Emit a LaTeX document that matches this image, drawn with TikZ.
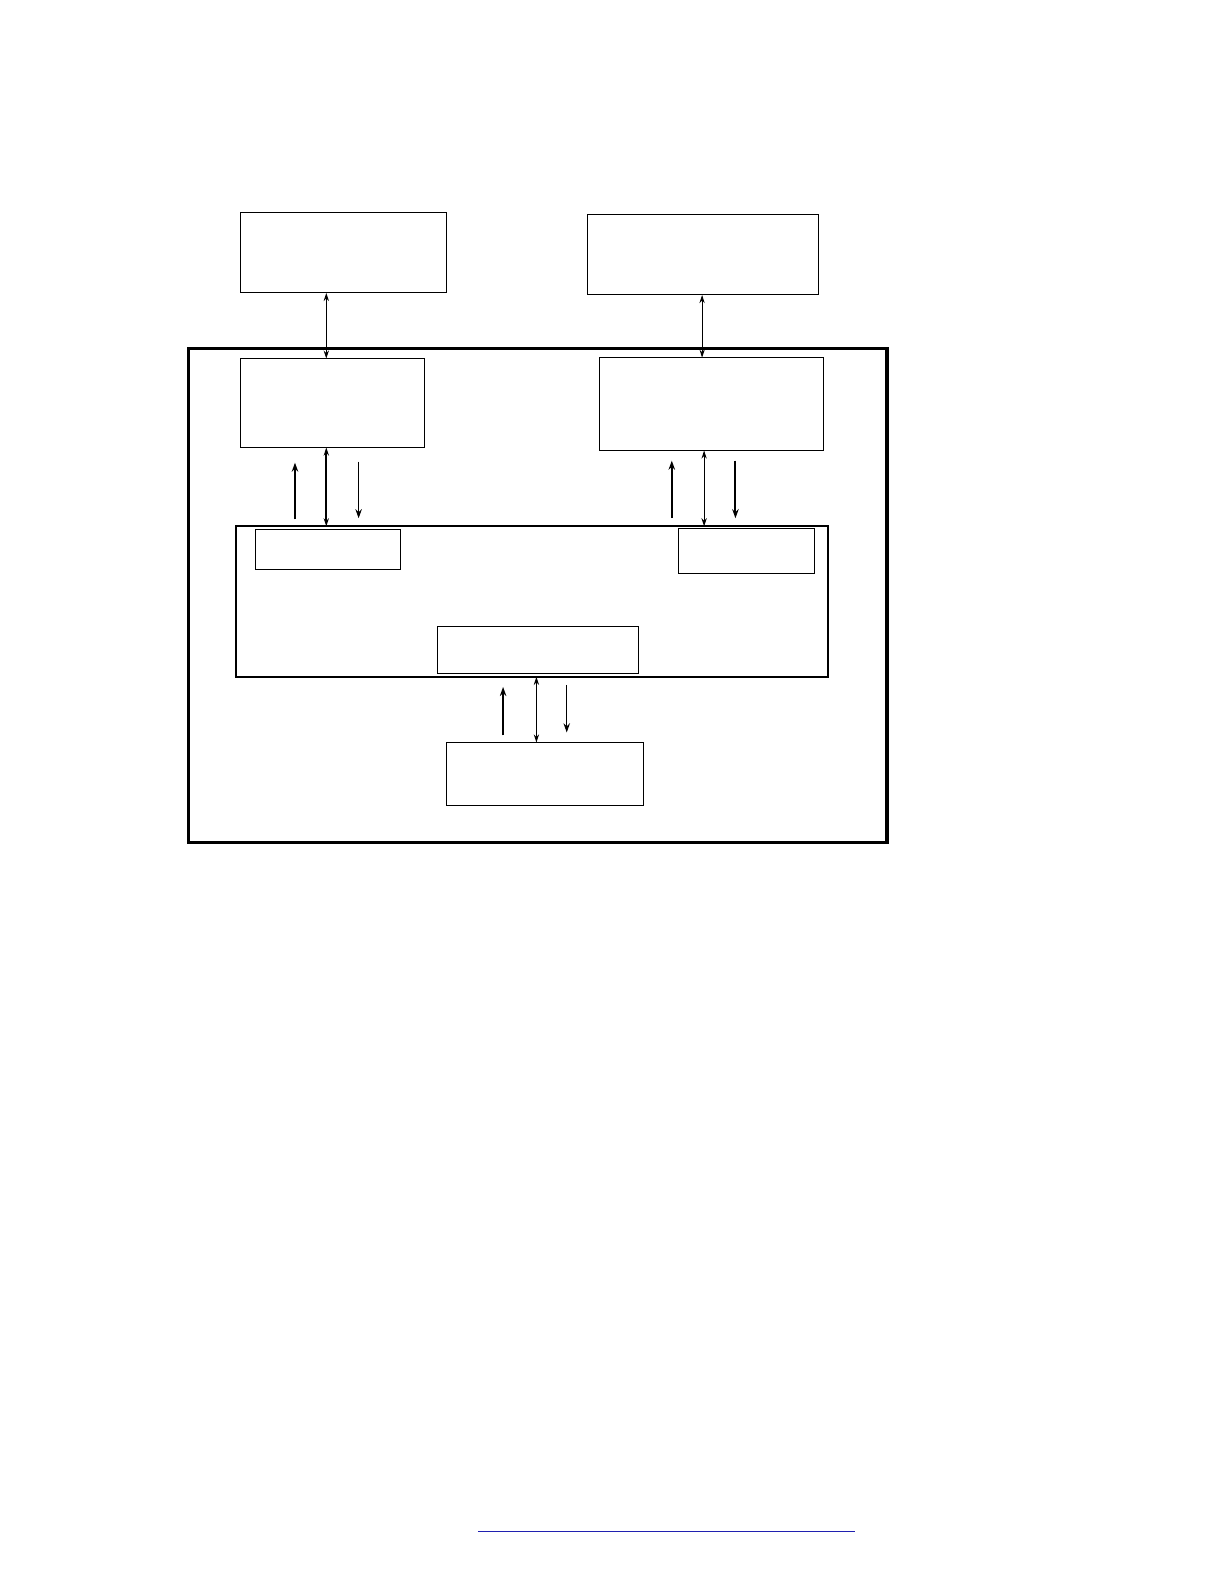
\documentclass[tikz,border=0pt]{standalone}
\usepackage{xcolor}
\usepackage{tikz}
\usetikzlibrary{arrows.meta}
\definecolor{linkblue}{HTML}{2020B0}

\begin{document}
\begin{tikzpicture}[x=0.5bp, y=-0.5bp,
    box/.style={draw, line width=0.5bp, inner sep=0pt, outer sep=0pt, anchor=north west},
    thinarr/.style={line width=0.5bp, {Stealth[length=4bp,width=2.6bp]}-{Stealth[length=4bp,width=2.6bp]}},
    thickarr/.style={line width=1bp},
    tip/.style={-{Stealth[length=4.5bp,width=3.2bp]}}]

    % Page frame
    \useasboundingbox (0,0) rectangle (1212,1568);

    % Blocks outside the main unit
    \node[box, minimum width=102bp, minimum height=40bp] (topL) at (238,210) {};
    \node[box, minimum width=114bp, minimum height=40bp] (topR) at (582,212) {};

    % Main unit and its bus
    \node[box, line width=1.5bp, minimum width=345.5bp, minimum height=244.5bp] (unit) at (187,345) {};
    \node[box, minimum width=91bp, minimum height=44bp] (midL) at (238,355) {};
    \node[box, minimum width=111bp, minimum height=46bp] (midR) at (593,354) {};
    \node[box, line width=1bp, minimum width=293bp, minimum height=74.5bp] (bus) at (234,521) {};
    \node[box, minimum width=71.5bp, minimum height=20bp] (portL) at (253,524) {};
    \node[box, minimum width=67bp, minimum height=22.5bp] (portR) at (672,523) {};
    \node[box, minimum width=99.5bp, minimum height=23.5bp] (portC) at (433,620) {};
    \node[box, minimum width=97.5bp, minimum height=31bp] (bottom) at (442,735) {};

    % Columns of the links
    \coordinate (cTopL) at (323,0);
    \coordinate (cTopR) at (695,0);
    \coordinate (cUpL) at (292,0);
    \coordinate (cBiL) at (323,0);
    \coordinate (cDnL) at (355,0);
    \coordinate (cUpR) at (665,0);
    \coordinate (cBiR) at (697,0);
    \coordinate (cDnR) at (728,0);
    \coordinate (cUpB) at (498,0);
    \coordinate (cBiB) at (531,0);
    \coordinate (cDnB) at (561,0);

    % Links from the outer blocks
    \draw[thinarr] (topL.south -| cTopL) -- (midL.north -| cTopL);
    \draw[thinarr] (topR.south -| cTopR) -- (midR.north -| cTopR);

    % Links between the left block and the bus
    \draw[thickarr, tip, shorten <=3.5bp, shorten >=7.5bp] (bus.north -| cUpL) -- (midL.south -| cUpL);
    \draw[thinarr, line width=1bp] (midL.south -| cBiL) -- (bus.north -| cBiL);
    \draw[line width=0.5bp, tip, shorten <=7bp, shorten >=4bp] (midL.south -| cDnL) -- (bus.north -| cDnL);

    % Links between the right block and the bus
    \draw[thickarr, tip, shorten <=4bp, shorten >=5bp] (bus.north -| cUpR) -- (midR.south -| cUpR);
    \draw[thinarr] (midR.south -| cBiR) -- (bus.north -| cBiR);
    \draw[thickarr, tip, shorten <=5bp, shorten >=4bp] (midR.south -| cDnR) -- (bus.north -| cDnR);

    % Links between the bus and the bottom block
    \draw[thickarr, tip, shorten <=3.5bp, shorten >=5bp] (bottom.north -| cUpB) -- (bus.south -| cUpB);
    \draw[thinarr] (bus.south -| cBiB) -- (bottom.north -| cBiB);
    \draw[line width=0.5bp, tip, shorten <=4bp, shorten >=5bp] (bus.south -| cDnB) -- (bottom.north -| cDnB);

    % Rule at the foot of the page
    \draw[linkblue, line width=0.75bp] (473,1516) -- (846,1516);

\end{tikzpicture}
\end{document}
